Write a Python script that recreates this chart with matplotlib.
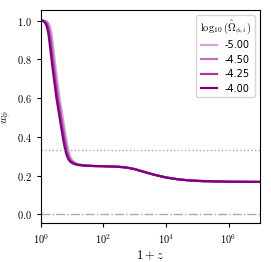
import numpy as np
import matplotlib
matplotlib.use("Agg")
from matplotlib import pyplot as plt
from matplotlib import ticker

plt.rcParams['mathtext.fontset'] = 'cm'

# log10(1+z) grid shared by all curves
log_1pz = [0, 0.05, 0.1, 0.15, 0.2, 0.25, 0.3, 0.35, 0.4, 0.45, 0.5, 0.55, 0.6,
           0.65, 0.7, 0.75, 0.8, 0.85, 0.9, 0.95, 1.0, 1.1, 1.2, 1.4, 1.7, 2.0,
           2.5, 2.75, 3.0, 3.3, 3.6, 4.0, 4.4, 4.8, 5.2, 6.0, 7.0]

tail = [0.248, 0.245, 0.241, 0.233, 0.219, 0.205, 0.190, 0.180, 0.174, 0.171, 0.168, 0.167]

w_m500 = [1.0, 1.0, 1.0, 0.999, 0.995, 0.987, 0.968, 0.930, 0.865, 0.795, 0.730, 0.668, 0.605,
          0.555, 0.505, 0.455, 0.405, 0.360, 0.322, 0.296, 0.280, 0.265, 0.258, 0.252, 0.249] + tail
w_m450 = [1.0, 1.0, 0.999, 0.996, 0.989, 0.973, 0.940, 0.880, 0.810, 0.743, 0.680, 0.617, 0.565,
          0.515, 0.465, 0.415, 0.369, 0.329, 0.300, 0.283, 0.273, 0.263, 0.257, 0.252, 0.249] + tail
w_m425 = [1.0, 1.0, 0.998, 0.992, 0.980, 0.953, 0.904, 0.837, 0.769, 0.705, 0.643, 0.585, 0.535,
          0.485, 0.435, 0.387, 0.345, 0.311, 0.290, 0.276, 0.269, 0.261, 0.256, 0.252, 0.249] + tail
w_m400 = [1.0, 0.999, 0.995, 0.987, 0.968, 0.930, 0.865, 0.795, 0.730, 0.668, 0.605, 0.555, 0.505,
          0.455, 0.405, 0.360, 0.322, 0.296, 0.280, 0.271, 0.265, 0.258, 0.254, 0.251, 0.249] + tail

labels = ['-5.00', '-4.50', '-4.25', '-4.00']
colors = ['#d4a8d4', '#c070c0', '#a03ca0', '#800080']
curves = [w_m500, w_m450, w_m425, w_m400]

fig = plt.figure(figsize=(2.71, 2.62), dpi=100)
ax = fig.add_axes([0.150, 0.149, 0.809, 0.813])

one_plus_z = 10**np.array(log_1pz)
for w, lab, c in zip(curves, labels, colors):
	ax.plot(one_plus_z, w, color=c, lw=1.6, label=lab)

ax.axhline(1/3, color='#aaaaaa', ls=':', lw=1.0)
ax.axhline(0.0, color='#aaaaaa', ls='-.', lw=1.0)

ax.set_xscale('log')
ax.set_xlim(1, 1e7)
ax.set_ylim(-0.045, 1.055)
ax.xaxis.set_major_locator(ticker.FixedLocator([1, 1e2, 1e4, 1e6]))
ax.xaxis.set_minor_locator(ticker.NullLocator())
ax.xaxis.set_major_formatter(ticker.FuncFormatter(lambda v, p: r'$10^{%d}$' % round(np.log10(v))))
ax.set_yticks([0.0, 0.2, 0.4, 0.6, 0.8, 1.0])
ax.yaxis.set_major_formatter(ticker.FuncFormatter(lambda v, p: r'$%.1f$' % v))
ax.tick_params(labelsize=7.5, length=3)

ax.set_xlabel(r'$1+z$', fontsize=9, labelpad=2)
ax.set_ylabel(r'$w_\phi$', fontsize=8, labelpad=2)

leg = ax.legend(title=r'$\log_{10}(\hat{\Omega}_{\phi,i})$', loc='upper right', fontsize=7,
                title_fontsize=7.5, handlelength=1.6, borderpad=0.4, labelspacing=0.45)

fig.savefig('out.png', dpi=100)
